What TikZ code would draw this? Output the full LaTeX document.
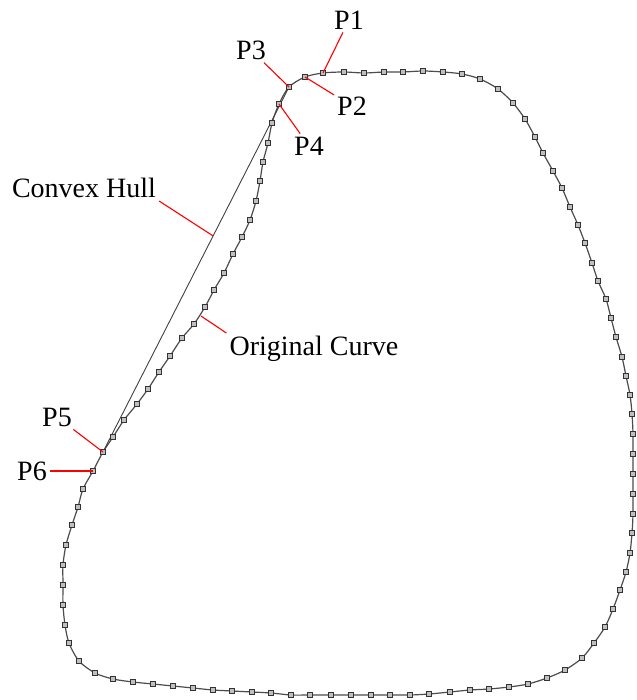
\documentclass[tikz,border=0pt]{standalone}
\usepackage{fontspec}
\setmainfont{Liberation Serif}
\usetikzlibrary{calc}

\begin{document}
\begin{tikzpicture}[
    x=1pt, y=-1pt,
    curveline/.style={draw=black!70, line width=1.2pt},
    hull/.style={draw=black!75, line width=0.9pt},
    mk/.style={rectangle, draw=black!80, fill=black!25, line width=0.8pt, inner sep=0pt, minimum size=5pt},
    lbl/.style={inner sep=3pt, font=\fontsize{28}{32}\selectfont},
    leader/.style={draw=red, line width=1.1pt}
]
    \useasboundingbox (0,0) rectangle (636,700);

    % Original curve
    \def\curvepts{323/73, 344/72, 364/73, 384/72, 403/72, 423/71, 443/72, 462/74, 480/79, 498/89,
        513/103, 525/119, 535/137, 543/153, 553/171, 562/188, 570/207, 578/225, 585/243, 592/263,
        598/281, 606/299, 611/318, 616/337, 622/357, 626/376, 630/395, 632/414, 633/434, 633/454,
        633/474, 633/494, 633/514, 632/533, 630/553, 626/572, 620/590, 613/609, 605/627, 594/643,
        582/658, 565/670, 547/678, 528/684, 509/687, 489/689, 470/690, 450/692, 429/694, 410/695,
        390/695, 371/695, 351/695, 331/695, 310/695, 291/695, 271/693, 252/692, 232/691, 213/690,
        193/688, 173/686, 153/684, 133/682, 113/679, 95/673, 79/661, 69/643, 65/625, 63/605,
        63/585, 63/565, 66/545, 72/525, 78/507, 83/489, 93/471, 103/452, 113/437, 124/420,
        137/404, 148/389, 159/372, 170/356, 182/338, 194/324, 205/307, 214/290, 224/273, 233/254,
        242/237, 250/220, 256/201, 260/181, 263/162, 268/143, 272/123, 279/104, 289/87, 305/77}
    \def\plotpts{}
    \foreach \px/\py in \curvepts {\xdef\plotpts{\plotpts (\px,\py)}}
    \edef\drawcurve{\noexpand\draw[curveline] plot[smooth cycle, tension=0.5] coordinates {\plotpts};}
    \drawcurve

    % Points on the hull
    \coordinate (p1) at (323,73);
    \coordinate (p2) at (305,77);
    \coordinate (p3) at (289,87);
    \coordinate (p4) at (279,104);
    \coordinate (p5) at (103,452);
    \coordinate (p6) at (93,471);

    % Convex hull segment
    \draw[hull] (p3) -- (p5);

    % Markers
    \foreach \px/\py [count=\i] in \curvepts
        \node[mk] (m\i) at (\px,\py) {};

    % Labels
    \node[lbl] (lP1) at (349,20) {P1};
    \node[lbl] (lP2) at (352,106) {P2};
    \node[lbl] (lP3) at (251,50) {P3};
    \node[lbl] (lP4) at (309,146) {P4};
    \node[lbl] (lP5) at (57,417) {P5};
    \node[lbl] (lP6) at (32,471) {P6};
    \node[lbl] (lHull) at (84,188) {Convex Hull};
    \node[lbl] (lOrig) at (314,349) {Original Curve};

    \coordinate (h1) at ($(p3)!0.408!(p5)$);
    \coordinate (c1) at (201,316);

    % Leaders
    \draw[leader] (lP1) -- (p1);
    \draw[leader] (lP2) -- (p2);
    \draw[leader] (lP3) -- (p3);
    \draw[leader] (lP4) -- (p4);
    \draw[leader] (lP5) -- (p5);
    \draw[leader] (lP6) -- (p6);
    \draw[leader] (lHull.south east) -- (h1);
    \draw[leader] (lOrig.north west) -- (c1);
\end{tikzpicture}
\end{document}
